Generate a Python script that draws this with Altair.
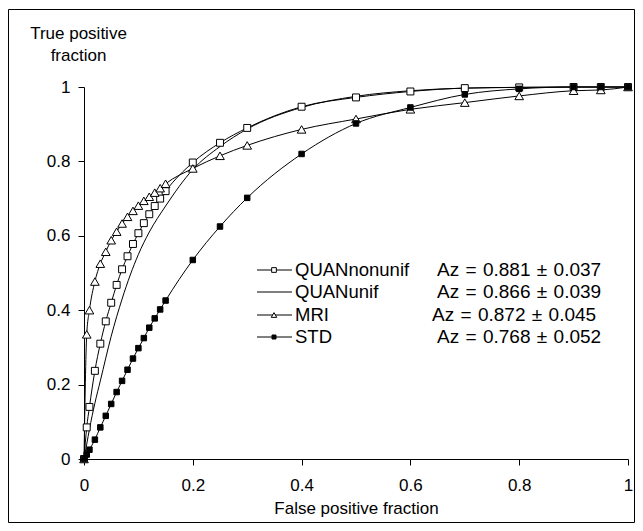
import altair as alt
import pandas as pd

# ---- data ----
fpf_grid = [0, 0.005, 0.01, 0.02, 0.03, 0.04, 0.05, 0.06, 0.07, 0.08, 0.09, 0.10,
            0.11, 0.12, 0.13, 0.14, 0.15, 0.2, 0.25, 0.3, 0.4, 0.5, 0.6, 0.7, 0.8,
            0.9, 0.95, 1.0]
quan_nonunif_tpf = [0, 0.085, 0.14, 0.237, 0.31, 0.37, 0.42, 0.468, 0.51, 0.545,
                    0.578, 0.607, 0.634, 0.658, 0.68, 0.70, 0.72, 0.797, 0.85, 0.89,
                    0.947, 0.972, 0.988, 0.997, 0.999, 1.0, 1.0, 1.0]
mri_tpf = [0, 0.335, 0.40, 0.477, 0.525, 0.557, 0.588, 0.611, 0.633, 0.651, 0.667,
           0.681, 0.694, 0.705, 0.716, 0.728, 0.74, 0.781, 0.815, 0.843, 0.886,
           0.914, 0.94, 0.958, 0.976, 0.99, 0.992, 1.0]
std_tpf = [0, 0.012, 0.025, 0.052, 0.085, 0.116, 0.148, 0.18, 0.21, 0.24, 0.27,
           0.298, 0.325, 0.353, 0.378, 0.402, 0.426, 0.535, 0.625, 0.702, 0.82,
           0.902, 0.945, 0.98, 0.995, 1.0, 1.0, 1.0]
quan_unif_fpf = [0, 0.005, 0.01, 0.02, 0.03, 0.05, 0.07, 0.1, 0.12, 0.15, 0.2,
                 0.25, 0.3, 0.4, 0.5, 0.6, 0.7, 0.8, 0.9, 1.0]
quan_unif_tpf = [0, 0.04, 0.08, 0.15, 0.21, 0.33, 0.43, 0.55, 0.61, 0.68, 0.778,
                 0.84, 0.887, 0.945, 0.975, 0.99, 0.997, 0.999, 1.0, 1.0]

series_names = ["QUANnonunif", "QUANunif", "MRI", "STD"]
SP = "\u2004"
az_texts = [f"Az{SP}={SP}0.881{SP}±{SP}0.037", f"Az{SP}={SP}0.866{SP}±{SP}0.039",
            f"Az{SP}={SP}0.872{SP}±{SP}0.045", f"Az{SP}={SP}0.768{SP}±{SP}0.052"]
tick_values = [0, 0.2, 0.4, 0.6, 0.8, 1.0]

FONT = "Liberation Sans"
FS = 17
LFS = 18.5
AFS = 19

df_nonunif = pd.DataFrame({"fpf": fpf_grid, "tpf": quan_nonunif_tpf, "series": "QUANnonunif"})
df_unif = pd.DataFrame({"fpf": quan_unif_fpf, "tpf": quan_unif_tpf, "series": "QUANunif"})
df_mri = pd.DataFrame({"fpf": fpf_grid, "tpf": mri_tpf, "series": "MRI"})
df_std = pd.DataFrame({"fpf": fpf_grid, "tpf": std_tpf, "series": "STD"})
df_all = pd.concat([df_nonunif, df_unif, df_mri, df_std], ignore_index=True)

x_enc = alt.X("fpf:Q", scale=alt.Scale(domain=[0, 1], nice=False),
              axis=alt.Axis(values=tick_values, format=".1~f",
                            title="False positive fraction",
                            titleY=54, titleBaseline="alphabetic",
                            labelPadding=12))
y_enc = alt.Y("tpf:Q", scale=alt.Scale(domain=[0, 1], nice=False),
              axis=alt.Axis(values=tick_values, format=".1~f",
                            title=["True positive", "fraction"],
                            titleAngle=0, titleAlign="center",
                            titleX=-6, titleY=-49, titleBaseline="alphabetic",
                            titleLineHeight=22, labelPadding=8))

lines = alt.Chart(df_all).mark_line(
    interpolate="monotone", color="black", strokeWidth=1
).encode(x=x_enc, y=y_enc, detail="series:N", order="fpf:Q")

pts_nonunif = alt.Chart(df_nonunif).mark_point(
    shape="square", size=48, filled=True, fill="white", stroke="black",
    strokeWidth=1, opacity=1
).encode(x="fpf:Q", y="tpf:Q")
pts_mri = alt.Chart(df_mri).mark_point(
    shape="triangle-up", size=75, filled=True, fill="white", stroke="black",
    strokeWidth=1, opacity=1
).encode(x="fpf:Q", y="tpf:Q")
pts_std = alt.Chart(df_std).mark_point(
    shape="square", size=30, filled=True, fill="black", stroke="black",
    strokeWidth=1, opacity=1
).encode(x="fpf:Q", y="tpf:Q")

# ---- custom legend (layout positions in pixels) ----
blank = alt.Data(values=[{}])
legend_rows_y = [183, 205, 228, 250]
legend_az_x = [353, 353, 348, 353]
legend_marks = []
marker_styles = [
    dict(shape="square", size=22, fill="white"),
    None,
    dict(shape="triangle-up", size=30, fill="white"),
    dict(shape="square", size=16, fill="black"),
]
for name, az, ry, ax, ms in zip(series_names, az_texts, legend_rows_y, legend_az_x, marker_styles):
    legend_marks.append(
        alt.Chart(blank).mark_rule(color="black", strokeWidth=1).encode(
            x=alt.value(173), x2=alt.value(208), y=alt.value(ry))
    )
    if ms is not None:
        legend_marks.append(
            alt.Chart(blank).mark_point(
                shape=ms["shape"], size=ms["size"], filled=True, fill=ms["fill"],
                stroke="black", strokeWidth=1, opacity=1
            ).encode(x=alt.value(190), y=alt.value(ry))
        )
    legend_marks.append(
        alt.Chart(blank).mark_text(
            text=name, align="left", baseline="middle", font=FONT, fontSize=LFS,
            color="black"
        ).encode(x=alt.value(211), y=alt.value(ry))
    )
    legend_marks.append(
        alt.Chart(blank).mark_text(
            text=az, align="left", baseline="middle", font=FONT, fontSize=AFS,
            color="black"
        ).encode(x=alt.value(ax), y=alt.value(ry))
    )

frame = alt.Chart(blank).mark_rect(
    fillOpacity=0, stroke="black", strokeWidth=1
).encode(x=alt.value(-75.5), x2=alt.value(550.5),
         y=alt.value(-77.5), y2=alt.value(435.5))

chart = alt.layer(
    frame, lines, pts_nonunif, pts_mri, pts_std, *legend_marks
).properties(
    width=544, height=372,
    background="white",
    autosize=alt.AutoSizeParams(type="none"),
    padding={"left": 76, "top": 79, "right": 7, "bottom": 64},
).configure_view(
    stroke=None
).configure_axis(
    grid=False, domainColor="black", tickColor="black", tickSize=6,
    labelFont=FONT, labelFontSize=FS, labelColor="black",
    titleFont=FONT, titleFontSize=FS, titleColor="black",
    titleFontWeight="normal", labelFlush=False, labelOverlap=False
)

chart.save("out.html", embed_options={"renderer": "svg", "actions": False})
